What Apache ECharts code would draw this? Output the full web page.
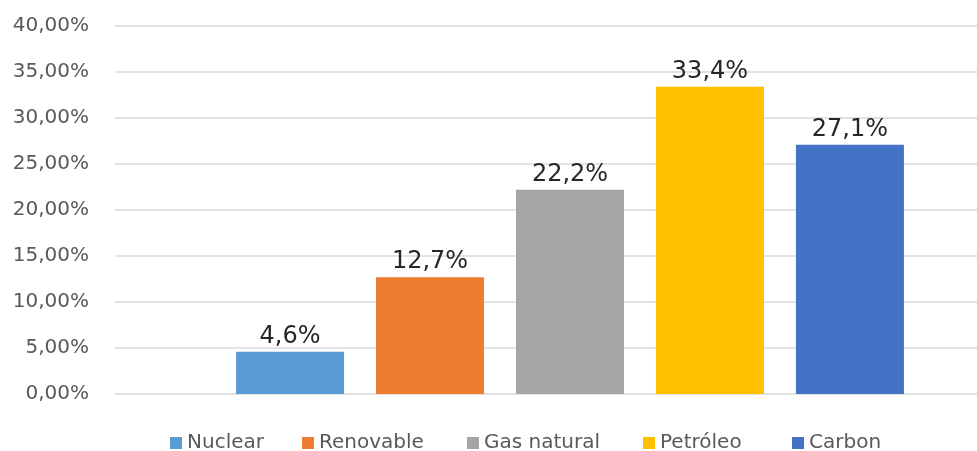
<!DOCTYPE html>
<html>
<head>
<meta charset="utf-8">
<script src="https://cdn.jsdelivr.net/npm/echarts@6/dist/echarts.min.js"></script>
<style>
  html, body { margin: 0; padding: 0; background: #ffffff; overflow: hidden; }
  #chart { width: 1025px; height: 451px; }
</style>
</head>
<body>
<div id="chart"></div>
<script>
// Energy mix shares (%)
const categories = ['Total'];
const seriesNames = ['Nuclear', 'Renovable', 'Gas natural', 'Petróleo', 'Carbon'];
const seriesValues = [4.6, 12.7, 22.2, 33.4, 27.1];
const seriesColors = ['#5B9BD5', '#ED7D31', '#A5A5A5', '#FFC000', '#4472C4'];
const yTicks = { min: 0, max: 40, interval: 5 };
const legendLeft = [170, 302, 467, 643, 792];

const FONT = 'DejaVu Sans';
const comma = (v, d) => v.toFixed(d).replace('.', ',');

const chart = echarts.init(document.getElementById('chart'), null, { renderer: 'canvas' });

const series = seriesNames.map((name, i) => ({
  name: name,
  type: 'bar',
  data: [seriesValues[i]],
  barWidth: 108,
  barGap: '29.6%',
  itemStyle: { color: seriesColors[i] },
  label: {
    show: true,
    position: 'top',
    distance: 3,
    color: '#262626',
    fontFamily: FONT,
    fontSize: 24,
    formatter: p => comma(p.value, 1) + '%'
  }
}));

const legends = seriesNames.map((name, i) => ({
  data: [name],
  left: legendLeft[i],
  top: 433,
  padding: 0,
  icon: 'rect',
  itemWidth: 12,
  itemHeight: 12,
  selectedMode: false,
  textStyle: { color: '#595959', fontFamily: FONT, fontSize: 20 }
}));

chart.setOption({
  animation: false,
  backgroundColor: '#ffffff',
  grid: { left: 115, right: 0, top: 26, bottom: 57 },
  legend: legends,
  xAxis: {
    type: 'category',
    data: categories,
    axisLine: { show: false },
    axisTick: { show: false },
    axisLabel: { show: false }
  },
  yAxis: {
    type: 'value',
    min: yTicks.min,
    max: yTicks.max,
    interval: yTicks.interval,
    axisLine: { show: false },
    axisTick: { show: false },
    splitLine: { lineStyle: { color: '#D9D9D9', width: 1.5 } },
    axisLabel: {
      margin: 26,
      color: '#595959',
      fontFamily: FONT,
      fontSize: 20,
      formatter: v => comma(v, 2) + '%'
    }
  },
  series: series
});
</script>
</body>
</html>
